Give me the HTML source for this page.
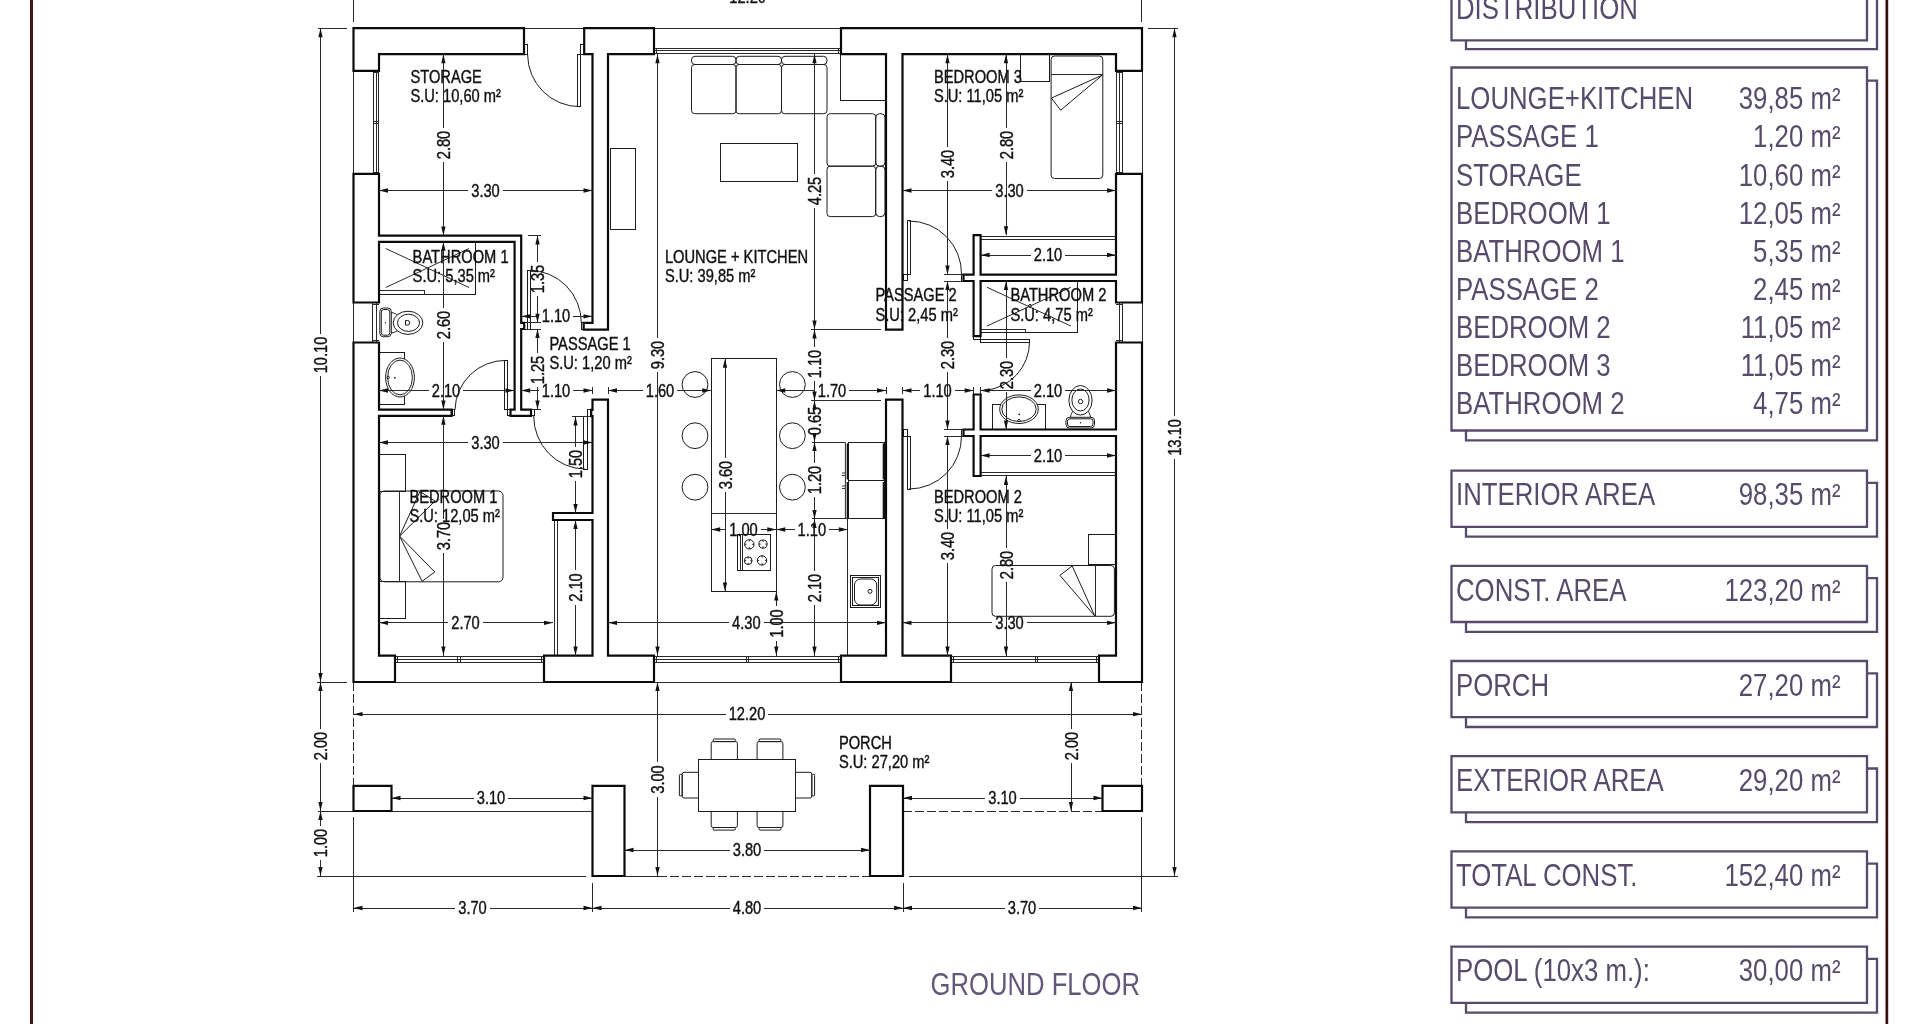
<!DOCTYPE html>
<html><head><meta charset="utf-8"><title>Ground floor</title>
<style>
html,body{margin:0;padding:0;background:#fff;overflow:hidden;}
svg{display:block;font-family:"Liberation Sans",sans-serif;will-change:transform;}
.w{fill:#fff;stroke:#0a0a0a;stroke-width:2.2;stroke-linejoin:miter;}
.t{fill:none;stroke:#2a2a2a;stroke-width:1.0;}
.f{fill:none;stroke:#1c1c1c;stroke-width:1;}
.a{fill:#111;stroke:none;}
.c{shape-rendering:crispEdges;}
.fw{fill:#fff;}
.b{fill:none;stroke:#574b6c;stroke-width:2.3;stroke-linejoin:miter;}
</style></head><body>
<svg width="1920" height="1024" viewBox="0 0 1920 1024">
<rect width="1920" height="1024" fill="#fff"/>
<rect x="30" y="0" width="3" height="1024" fill="#401616"/>
<rect x="1885.5" y="0" width="2.7" height="1024" fill="#3c0d0d"/>
<path d="M353.5 0 L353.5 22" class="t c"/>
<path d="M1141.5 0 L1141.5 22" class="t c"/>
<path d="M318 28.2 L347 28.2" class="t c"/>
<path d="M1147.5 28.2 L1178 28.2" class="t c"/>
<path d="M524 28.2 L584.2 28.2" class="t c"/>
<path d="M654 28.2 L841 28.2" class="t c"/>
<path d="M317 682.5 L347 682.5" class="t c"/>
<path d="M395 682 L544 682" class="t c"/>
<path d="M654 682 L841 682" class="t c"/>
<path d="M951 682 L1099 682" class="t c"/>
<path d="M318 811.5 L592 811.5" class="t c"/>
<path d="M317 876 L586 876" class="t c"/>
<path d="M624.5 876 L658 876" class="t c"/>
<path d="M658 876 L870 876" class="t c" stroke-dasharray="8.5 3.5"/>
<path d="M909 876 L1178 876" class="t c"/>
<path d="M903 811.5 L1102 811.5" class="t c" stroke-dasharray="8.5 3.5"/>
<path d="M353.5 682 L353.5 786" class="t c" stroke-dasharray="8.5 3.5"/>
<path d="M1141.5 682 L1141.5 786" class="t c" stroke-dasharray="8.5 3.5"/>
<path d="M353.5 817 L353.5 912" class="t c"/>
<path d="M592.5 883 L592.5 912" class="t c"/>
<path d="M903 883 L903 912" class="t c"/>
<path d="M1141.5 817 L1141.5 912" class="t c"/>
<path d="M353.3 70.8 L353.3 173.8" class="t c"/>
<path d="M373.2 70.8 L373.2 173.8" class="t c"/>
<path d="M376 70.8 L376 173.8" class="t c"/>
<path d="M378.7 70.8 L378.7 173.8" class="t c"/>
<path d="M373.2 72.5 L378.7 72.5" class="t c"/>
<path d="M373.2 172 L378.7 172" class="t c"/>
<path d="M373.2 121.5 L378.7 121.5" class="t c"/>
<path d="M373.2 123.7 L378.7 123.7" class="t c"/>
<path d="M353.3 302.5 L353.3 342.5" class="t c"/>
<path d="M372.8 302.5 L372.8 342.5" class="t c"/>
<path d="M376.3 302.5 L376.3 342.5" class="t c"/>
<path d="M372.8 304.5 L379 304.5" class="t c"/>
<path d="M372.8 340.5 L379 340.5" class="t c"/>
<path d="M1142.1 70.8 L1142.1 173.8" class="t c"/>
<path d="M1116.4 70.8 L1116.4 173.8" class="t c"/>
<path d="M1119 70.8 L1119 173.8" class="t c"/>
<path d="M1122 70.8 L1122 173.8" class="t c"/>
<path d="M1116.4 72.5 L1122 72.5" class="t c"/>
<path d="M1116.4 172 L1122 172" class="t c"/>
<path d="M1116.4 121.5 L1122 121.5" class="t c"/>
<path d="M1116.4 123.7 L1122 123.7" class="t c"/>
<path d="M1142.1 302.5 L1142.1 342.5" class="t c"/>
<path d="M1119.3 302.5 L1119.3 342.5" class="t c"/>
<path d="M1122.3 302.5 L1122.3 342.5" class="t c"/>
<path d="M1116 304.5 L1122.3 304.5" class="t c"/>
<path d="M1116 340.5 L1122.3 340.5" class="t c"/>
<path d="M654 48.3 L841 48.3" class="t c"/>
<path d="M654 50.8 L841 50.8" class="t c"/>
<path d="M654 53.9 L841 53.9" class="t c"/>
<path d="M656.5 48.3 L656.5 53.9" class="t c"/>
<path d="M838.6 48.3 L838.6 53.9" class="t c"/>
<path d="M395 656.2 L544 656.2" class="t c"/>
<path d="M395 659.5 L544 659.5" class="t c"/>
<path d="M395 662.5 L544 662.5" class="t c"/>
<path d="M397.5 656.2 L397.5 662.5" class="t c"/>
<path d="M541.5 656.2 L541.5 662.5" class="t c"/>
<path d="M457.2 656.2 L457.2 662.5" class="t c"/>
<path d="M460 656.2 L460 662.5" class="t c"/>
<path d="M654 656.2 L841 656.2" class="t c"/>
<path d="M654 659.5 L841 659.5" class="t c"/>
<path d="M654 662.5 L841 662.5" class="t c"/>
<path d="M656.5 656.2 L656.5 662.5" class="t c"/>
<path d="M838.5 656.2 L838.5 662.5" class="t c"/>
<path d="M746 656.2 L746 662.5" class="t c"/>
<path d="M748.8 656.2 L748.8 662.5" class="t c"/>
<path d="M951 656.2 L1099 656.2" class="t c"/>
<path d="M951 659.5 L1099 659.5" class="t c"/>
<path d="M951 662.5 L1099 662.5" class="t c"/>
<path d="M953.5 656.2 L953.5 662.5" class="t c"/>
<path d="M1096.5 656.2 L1096.5 662.5" class="t c"/>
<path d="M1035 656.2 L1035 662.5" class="t c"/>
<path d="M1037.8 656.2 L1037.8 662.5" class="t c"/>
<rect x="691.5" y="56.3" width="44.5" height="8.2" rx="3.5" class="f"/>
<rect x="691.5" y="64.5" width="44.5" height="49.2" rx="3.2" class="f"/>
<rect x="736" y="56.3" width="45.5" height="8.2" rx="3.5" class="f"/>
<rect x="736" y="64.5" width="45.5" height="49.2" rx="3.2" class="f"/>
<rect x="781.5" y="56.3" width="45.5" height="8.2" rx="3.5" class="f"/>
<rect x="781.5" y="64.5" width="45.5" height="49.2" rx="3.2" class="f"/>
<rect x="827" y="113.7" width="48.7" height="52.5" rx="3.2" class="f"/>
<rect x="875.7" y="113.7" width="9.3" height="52.5" rx="4" class="f"/>
<rect x="827" y="166.2" width="48.7" height="50.4" rx="3.2" class="f"/>
<rect x="875.7" y="166.2" width="9.3" height="50.4" rx="4" class="f"/>
<rect x="720.4" y="143" width="76.9" height="38.4" class="f c"/>
<rect x="610" y="148" width="25" height="81" class="f c"/>
<rect x="840" y="54.2" width="46" height="46.7" class="f c"/>
<rect x="711.2" y="358.7" width="65.1" height="232.8" class="f c"/>
<path d="M711.2 513 L776.3 513" class="t c"/>
<circle cx="695" cy="384.5" r="12.9" class="f"/>
<circle cx="792.4" cy="384.5" r="12.9" class="f"/>
<circle cx="695" cy="435.7" r="12.9" class="f"/>
<circle cx="792.4" cy="435.7" r="12.9" class="f"/>
<circle cx="695" cy="487.2" r="12.9" class="f"/>
<circle cx="792.4" cy="487.2" r="12.9" class="f"/>
<rect x="737.5" y="534.4" width="33" height="36.2" class="f c"/>
<path d="M740.3 534.4 L740.3 570.6" class="t c"/>
<path d="M742.2 534.4 L742.2 570.6" class="t c"/>
<circle cx="749.3" cy="544.3" r="4.7" class="f"/>
<path d="M744.6 544.3 h1.8 M754 544.3 h-1.8 M749.3 539.6 v1.8 M749.3 549 v-1.8" class="f"/>
<circle cx="763" cy="544.1" r="4.1" class="f"/>
<path d="M758.9 544.1 h1.8 M767.1 544.1 h-1.8 M763 540 v1.8 M763 548.2 v-1.8" class="f"/>
<circle cx="748.2" cy="560.7" r="3.9" class="f"/>
<path d="M744.3 560.7 h1.8 M752.1 560.7 h-1.8 M748.2 556.8 v1.8 M748.2 564.6 v-1.8" class="f"/>
<circle cx="762" cy="560.4" r="4.7" class="f"/>
<path d="M757.3 560.4 h1.8 M766.7 560.4 h-1.8 M762 555.7 v1.8 M762 565.1 v-1.8" class="f"/>
<path d="M812.4 442.4 L845 442.4" class="t c"/>
<path d="M812.4 518.8 L847.8 518.8" class="t c"/>
<rect x="848" y="442.4" width="36.4" height="38.4" class="f c"/>
<rect x="848" y="480.8" width="36.4" height="38" class="f c"/>
<path d="M847.6 443.5 V479.5 M847.6 482 V518 M883.6 443.5 V479.5 M883.6 482 V518" stroke="#111" stroke-width="1.8" fill="none"/>
<path d="M845.4 442.4 V518.8" class="t"/>
<path d="M842 473 h3 M842 475.5 h3 M842 486 h3 M842 488.5 h3" stroke="#222" stroke-width="0.9" fill="none"/>
<path d="M847.8 518.8 L847.8 655.6" class="t c"/>
<rect x="850.3" y="575.4" width="30.6" height="32.3" class="f c"/>
<rect x="852.3" y="577.4" width="26.6" height="28.3" class="f c"/>
<rect x="854.5" y="579" width="22.2" height="26" rx="6" class="f"/>
<circle cx="870" cy="591.3" r="2" class="f"/>
<rect x="379" y="241.8" width="96.7" height="52.2" class="f c"/>
<path d="M379 290.3 L424 290.3" class="t c"/>
<path d="M424 290.3 L424 294" class="t c"/>
<path d="M385.8 248.5 L469 287.5" class="t"/>
<path d="M385.8 287.5 L469 248.5" class="t"/>
<rect x="379.8" y="308" width="11.5" height="28.7" rx="3.5" class="f"/>
<rect x="381.3" y="309.5" width="8.5" height="25.7" rx="2.5" class="f"/>
<path d="M391.3 312.5 C396 313 397 316 400 314.5 M391.3 333 C396 332.5 397 329.5 400 331" class="f"/>
<ellipse cx="408" cy="322.8" rx="14.8" ry="11.6" class="f fw"/>
<ellipse cx="408.5" cy="322.8" rx="11" ry="8.6" class="f"/>
<path d="M405.5 320.5 v4.6 h2 a2.3 2.3 0 0 0 0 -4.6 z" class="f"/>
<circle cx="385.5" cy="322.8" r="0.7" class="a"/>
<rect x="379" y="352" width="25.7" height="52.4" class="f c"/>
<ellipse cx="400" cy="377.5" rx="14.4" ry="19.5" class="f fw"/>
<ellipse cx="400" cy="377.5" rx="12.4" ry="17.4" class="f"/>
<circle cx="388.2" cy="377.5" r="1.2" class="f"/>
<circle cx="394.8" cy="377.8" r="0.9" class="a"/>
<rect x="980.6" y="281" width="97.1" height="51.4" class="f c"/>
<path d="M980.6 329.4 L1025 329.4" class="t c"/>
<path d="M1025 329.4 L1025 332.4" class="t c"/>
<path d="M987 287.3 L1070.8 326" class="t"/>
<path d="M987 326 L1070.8 287.3" class="t"/>
<circle cx="1030" cy="305.8" r="1.4" class="f"/>
<rect x="992.5" y="404" width="52.5" height="25.5" class="f c"/>
<ellipse cx="1019" cy="409.2" rx="19.3" ry="14.3" class="f fw"/>
<ellipse cx="1019" cy="409.2" rx="17.2" ry="12.3" class="f"/>
<circle cx="1019" cy="420.6" r="1.2" class="f"/>
<circle cx="1019.3" cy="414.3" r="0.9" class="a"/>
<rect x="1066" y="417.3" width="28.5" height="10.7" rx="3.5" class="f"/>
<rect x="1067.5" y="418.8" width="25.5" height="7.7" rx="2.5" class="f"/>
<path d="M1070.5 417.3 C1071 412.5 1074 411.5 1072.5 408.5 M1090.5 417.3 C1090 412.5 1087 411.5 1088.5 408.5" class="f"/>
<ellipse cx="1080.5" cy="400.3" rx="11.6" ry="14.8" class="f fw"/>
<ellipse cx="1080.5" cy="400" rx="8.6" ry="11" class="f"/>
<circle cx="1080.5" cy="401.5" r="2.2" class="f"/>
<circle cx="1080.5" cy="422.8" r="0.7" class="a"/>
<rect x="379" y="454.1" width="26.8" height="36.9" class="f c"/>
<rect x="379" y="581.8" width="26.8" height="36.4" class="f c"/>
<rect x="379.9" y="491" width="123.1" height="90.8" rx="4.5" class="f"/>
<path d="M399.6 491 L399.6 581.8" class="t c"/>
<path d="M399.6 536.1 L420 491.5 L435 501 L399.6 536.1" class="f"/>
<path d="M399.6 536.1 L422.1 581.3 L434.8 572 L399.6 536.1" class="f"/>
<rect x="1020.6" y="54.2" width="29.1" height="27.2" class="f c"/>
<rect x="1051.1" y="56" width="51.7" height="122.5" rx="3.5" class="f"/>
<path d="M1051.1 74.7 L1102.8 74.7" class="t c"/>
<path d="M1102.5 75 L1051.4 98.1 L1060.7 110.2 Z" class="f"/>
<rect x="1088.6" y="534.4" width="27.4" height="29.6" class="f c"/>
<rect x="992" y="565.5" width="122.4" height="50.8" rx="3.5" class="f"/>
<path d="M1095.6 565.5 L1095.6 616.3" class="t c"/>
<path d="M1094.8 616 L1059.9 575.3 L1072.2 566 Z" class="f"/>
<path d="M554.5 520 L554.5 655.6" class="t c"/>
<path d="M557.5 520 L557.5 655.6" class="t c"/>
<path d="M980.6 236.3 L1116 236.3" class="t c"/>
<path d="M980.6 239.3 L1116 239.3" class="t c"/>
<path d="M980.6 472.6 L1116 472.6" class="t c"/>
<path d="M980.6 475.6 L1116 475.6" class="t c"/>
<rect x="698.7" y="759.6" width="97.1" height="51.5" class="f c"/>
<path d="M711.2 759.6 V743.5 Q711.2 741.6 713.2 741.6 H735.4 Q737.4 741.6 737.4 743.5 V759.6" class="f"/>
<rect x="713.2" y="739" width="22.2" height="2.6" rx="1" class="f"/>
<path d="M711.2 811.1 V825.6 Q711.2 827.5 713.2 827.5 H735.4 Q737.4 827.5 737.4 825.6 V811.1" class="f"/>
<rect x="713.2" y="827.5" width="22.2" height="2.6" rx="1" class="f"/>
<path d="M757.1 759.6 V743.5 Q757.1 741.6 759.1 741.6 H780.9 Q782.9 741.6 782.9 743.5 V759.6" class="f"/>
<rect x="759.1" y="739" width="21.8" height="2.6" rx="1" class="f"/>
<path d="M757.1 811.1 V825.6 Q757.1 827.5 759.1 827.5 H780.9 Q782.9 827.5 782.9 825.6 V811.1" class="f"/>
<rect x="759.1" y="827.5" width="21.8" height="2.6" rx="1" class="f"/>
<path d="M698.7 772.3 H684 Q682.2 772.3 682.2 774.3 V796 Q682.2 798 684 798 H698.7" class="f"/>
<rect x="679.4" y="774.3" width="2.8" height="21.7" rx="1" class="f"/>
<path d="M795.8 772.3 H810 Q811.8 772.3 811.8 774.3 V796 Q811.8 798 810 798 H795.8" class="f"/>
<rect x="811.8" y="774.3" width="2.8" height="21.7" rx="1" class="f"/>
<rect x="524.8" y="44.4" width="3" height="9.8" class="f c"/>
<rect x="580.5" y="44.4" width="3.5" height="9.8" class="f c"/>
<rect x="577.4" y="54.2" width="3.2" height="52.5" class="f c"/>
<path d="M527.6 54.5 A52.4 52.3 0 0 0 580 106.7" class="f"/>
<rect x="527" y="270.4" width="3.3" height="58.6" class="f c"/>
<path d="M529.5 270.4 A51.8 52.4 0 0 1 581.3 322.8" class="f"/>
<rect x="581" y="322.8" width="2.7" height="6.8" class="f c"/>
<path d="M524.2 322.8 L541 322.8" class="t c"/>
<path d="M524.2 329 L541 329" class="t c"/>
<path d="M527.5 235.6 L541 235.6" class="t c"/>
<rect x="504.8" y="360.4" width="2.8" height="49.2" class="f c"/>
<rect x="507.6" y="409.6" width="2.9" height="6.2" class="f c"/>
<rect x="452" y="409.6" width="2.6" height="6.2" class="f c"/>
<path d="M506 360.4 A50.5 50.5 0 0 0 455 409.6" class="f"/>
<rect x="531.3" y="409.6" width="2.7" height="6.2" class="f c"/>
<path d="M531 409.6 L541 409.6" class="t c"/>
<rect x="583" y="416.4" width="4.6" height="52.6" class="f c"/>
<rect x="587.6" y="409.3" width="3.2" height="7.1" class="f c"/>
<path d="M533.7 416 A51.5 53 0 0 0 585 469" class="f"/>
<path d="M572.3 416.4 L591 416.4" class="t c"/>
<rect x="907.4" y="220.8" width="3.4" height="53.6" class="f c"/>
<rect x="903.5" y="274.4" width="3.9" height="6.2" class="f c"/>
<path d="M909 221 A52.5 52.5 0 0 1 961.5 274.6" class="f"/>
<rect x="961" y="274.6" width="2.5" height="6.4" class="f c"/>
<path d="M944.4 274.4 L962 274.4" class="t c"/>
<path d="M944.4 281 L962 281" class="t c"/>
<rect x="980.6" y="339" width="49" height="3.5" class="f c"/>
<rect x="973.6" y="336.2" width="7" height="3.1" class="f c"/>
<path d="M1029.6 341.5 A48.8 49 0 0 1 984 390.4" class="f"/>
<rect x="907.4" y="436" width="3.4" height="53.2" class="f c"/>
<rect x="903.5" y="429.6" width="3.9" height="6.4" class="f c"/>
<path d="M909 489 A52.5 52.5 0 0 0 961.5 436" class="f"/>
<rect x="961" y="429.5" width="2.5" height="6.5" class="f c"/>
<path d="M944.4 429.5 L962 429.5" class="t c"/>
<path d="M944.4 436 L962 436" class="t c"/>
<path d="M810.5 329.6 L881 329.6" class="t c"/>
<path d="M810.5 400.5 L881 400.5" class="t c"/>
<path d="M353.5 28.2 L524 28.2 L524 54.2 L379 54.2 L379 70.8 L353.5 70.8 Z" class="w"/>
<path d="M353.5 173.8 L379 173.8 L379 235.6 L521.2 235.6 L521.2 322.8 L524.2 322.8 L524.2 329 L521.2 329 L521.2 409.6 L531 409.6 L531 415.8 L510.5 415.8 L510.5 409.6 L514.6 409.6 L514.6 241.8 L379 241.8 L379 302.5 L353.5 302.5 Z" class="w"/>
<path d="M353.5 342.5 L379 342.5 L379 409.6 L451.6 409.6 L451.6 415.8 L379 415.8 L379 655.6 L395 655.6 L395 682 L353.5 682 Z" class="w"/>
<path d="M584.2 28.2 L654 28.2 L654 54.2 L608 54.2 L608 329.6 L583.7 329.6 L583.7 322.8 L592.5 322.8 L592.5 54.2 L584.2 54.2 Z" class="w"/>
<path d="M592.5 399.6 L608 399.6 L608 655.6 L654 655.6 L654 682 L544 682 L544 655.6 L592.5 655.6 L592.5 520 L553 520 L553 513 L592.5 513 L592.5 416.2 L591.2 416.2 L591.2 409.8 L592.5 409.8 Z" class="w"/>
<path d="M841 28.2 L1142 28.2 L1142 70.8 L1116 70.8 L1116 54.2 L902.5 54.2 L902.5 329.6 L886 329.6 L886 54.2 L841 54.2 Z" class="w"/>
<path d="M886 399.6 L902.5 399.6 L902.5 655.6 L951 655.6 L951 682 L841 682 L841 655.6 L886 655.6 Z" class="w"/>
<path d="M1116 173.8 L1142 173.8 L1142 302.5 L1116 302.5 L1116 281 L980.6 281 L980.6 336.2 L973.6 336.2 L973.6 281 L963.5 281 L963.5 274.6 L973.6 274.6 L973.6 235.2 L980.6 235.2 L980.6 274.6 L1116 274.6 Z" class="w"/>
<path d="M1116 342.5 L1142 342.5 L1142 682 L1099 682 L1099 655.6 L1116 655.6 L1116 436 L980.6 436 L980.6 476 L973.6 476 L973.6 436 L963.5 436 L963.5 429.5 L973.6 429.5 L973.6 394.5 L980.6 394.5 L980.6 429.5 L1116 429.5 Z" class="w"/>
<path d="M353.5 785.8 L391.5 785.8 L391.5 811 L353.5 811 Z" class="w"/>
<path d="M592.5 785.8 L624.5 785.8 L624.5 876 L592.5 876 Z" class="w"/>
<path d="M870 785.8 L903 785.8 L903 876 L870 876 Z" class="w"/>
<path d="M1102.5 785.8 L1142 785.8 L1142 811 L1102.5 811 Z" class="w"/>
<path d="M353.5 -3.2 L726.22 -3.2" class="t c"/>
<path d="M768.98 -3.2 L1142 -3.2" class="t c"/>
<path d="M353.5 -3.2 L362.5 -5.35 L362.5 -1.05 Z" class="a"/>
<path d="M1142 -3.2 L1133 -1.05 L1133 -5.35 Z" class="a"/>
<text transform="translate(747.6 2.9) scale(0.8300 1)" font-size="17.7" text-anchor="middle" fill="#111" stroke="#111" stroke-width="0.4">12.20</text>
<path d="M379 190.5 L468.2 190.5" class="t c"/>
<path d="M502.8 190.5 L592.5 190.5" class="t c"/>
<path d="M379 190.5 L388 188.35 L388 192.65 Z" class="a"/>
<path d="M592.5 190.5 L583.5 192.65 L583.5 188.35 Z" class="a"/>
<text transform="translate(485.5 196.6) scale(0.8300 1)" font-size="17.7" text-anchor="middle" fill="#111" stroke="#111" stroke-width="0.4">3.30</text>
<path d="M902.5 190.5 L992.2 190.5" class="t c"/>
<path d="M1026.8 190.5 L1116 190.5" class="t c"/>
<path d="M902.5 190.5 L911.5 188.35 L911.5 192.65 Z" class="a"/>
<path d="M1116 190.5 L1107 192.65 L1107 188.35 Z" class="a"/>
<text transform="translate(1009.5 196.6) scale(0.8300 1)" font-size="17.7" text-anchor="middle" fill="#111" stroke="#111" stroke-width="0.4">3.30</text>
<path d="M980.6 255 L1030.7 255" class="t c"/>
<path d="M1065.3 255 L1116 255" class="t c"/>
<path d="M980.6 255 L989.6 252.85 L989.6 257.15 Z" class="a"/>
<path d="M1116 255 L1107 257.15 L1107 252.85 Z" class="a"/>
<text transform="translate(1048 261.1) scale(0.8300 1)" font-size="17.7" text-anchor="middle" fill="#111" stroke="#111" stroke-width="0.4">2.10</text>
<path d="M521.2 316.3 L538.7 316.3" class="t c"/>
<path d="M573.3 316.3 L592.5 316.3" class="t c"/>
<path d="M521.2 316.3 L530.2 314.15 L530.2 318.45 Z" class="a"/>
<path d="M592.5 316.3 L583.5 318.45 L583.5 314.15 Z" class="a"/>
<text transform="translate(556 322.4) scale(0.8300 1)" font-size="17.7" text-anchor="middle" fill="#111" stroke="#111" stroke-width="0.4">1.10</text>
<path d="M379 390.5 L428.7 390.5" class="t c"/>
<path d="M463.3 390.5 L514.6 390.5" class="t c"/>
<path d="M379 390.5 L388 388.35 L388 392.65 Z" class="a"/>
<path d="M514.6 390.5 L505.6 392.65 L505.6 388.35 Z" class="a"/>
<text transform="translate(446 396.6) scale(0.8300 1)" font-size="17.7" text-anchor="middle" fill="#111" stroke="#111" stroke-width="0.4">2.10</text>
<path d="M521.2 390.5 L538.7 390.5" class="t c"/>
<path d="M573.3 390.5 L592.5 390.5" class="t c"/>
<path d="M521.2 390.5 L530.2 388.35 L530.2 392.65 Z" class="a"/>
<path d="M592.5 390.5 L583.5 392.65 L583.5 388.35 Z" class="a"/>
<text transform="translate(556 396.6) scale(0.8300 1)" font-size="17.7" text-anchor="middle" fill="#111" stroke="#111" stroke-width="0.4">1.10</text>
<path d="M608 390.5 L642.7 390.5" class="t c"/>
<path d="M677.3 390.5 L711.2 390.5" class="t c"/>
<path d="M608 390.5 L617 388.35 L617 392.65 Z" class="a"/>
<path d="M711.2 390.5 L702.2 392.65 L702.2 388.35 Z" class="a"/>
<text transform="translate(660 396.6) scale(0.8300 1)" font-size="17.7" text-anchor="middle" fill="#111" stroke="#111" stroke-width="0.4">1.60</text>
<path d="M776.3 390.5 L814.7 390.5" class="t c"/>
<path d="M849.3 390.5 L886 390.5" class="t c"/>
<path d="M776.3 390.5 L785.3 388.35 L785.3 392.65 Z" class="a"/>
<path d="M886 390.5 L877 392.65 L877 388.35 Z" class="a"/>
<text transform="translate(832 396.6) scale(0.8300 1)" font-size="17.7" text-anchor="middle" fill="#111" stroke="#111" stroke-width="0.4">1.70</text>
<path d="M902.5 390.5 L920.2 390.5" class="t c"/>
<path d="M954.8 390.5 L973.6 390.5" class="t c"/>
<path d="M902.5 390.5 L911.5 388.35 L911.5 392.65 Z" class="a"/>
<path d="M973.6 390.5 L964.6 392.65 L964.6 388.35 Z" class="a"/>
<text transform="translate(937.5 396.6) scale(0.8300 1)" font-size="17.7" text-anchor="middle" fill="#111" stroke="#111" stroke-width="0.4">1.10</text>
<path d="M980.6 390.5 L1030.7 390.5" class="t c"/>
<path d="M1065.3 390.5 L1116 390.5" class="t c"/>
<path d="M980.6 390.5 L989.6 388.35 L989.6 392.65 Z" class="a"/>
<path d="M1116 390.5 L1107 392.65 L1107 388.35 Z" class="a"/>
<text transform="translate(1048 396.6) scale(0.8300 1)" font-size="17.7" text-anchor="middle" fill="#111" stroke="#111" stroke-width="0.4">2.10</text>
<path d="M379 442.5 L468.2 442.5" class="t c"/>
<path d="M502.8 442.5 L592.5 442.5" class="t c"/>
<path d="M379 442.5 L388 440.35 L388 444.65 Z" class="a"/>
<path d="M592.5 442.5 L583.5 444.65 L583.5 440.35 Z" class="a"/>
<text transform="translate(485.5 448.6) scale(0.8300 1)" font-size="17.7" text-anchor="middle" fill="#111" stroke="#111" stroke-width="0.4">3.30</text>
<path d="M980.6 455.5 L1030.7 455.5" class="t c"/>
<path d="M1065.3 455.5 L1116 455.5" class="t c"/>
<path d="M980.6 455.5 L989.6 453.35 L989.6 457.65 Z" class="a"/>
<path d="M1116 455.5 L1107 457.65 L1107 453.35 Z" class="a"/>
<text transform="translate(1048 461.6) scale(0.8300 1)" font-size="17.7" text-anchor="middle" fill="#111" stroke="#111" stroke-width="0.4">2.10</text>
<path d="M711.2 529.5 L726.2 529.5" class="t c"/>
<path d="M760.8 529.5 L776.3 529.5" class="t c"/>
<path d="M711.2 529.5 L720.2 527.35 L720.2 531.65 Z" class="a"/>
<path d="M776.3 529.5 L767.3 531.65 L767.3 527.35 Z" class="a"/>
<text transform="translate(743.5 535.6) scale(0.8300 1)" font-size="17.7" text-anchor="middle" fill="#111" stroke="#111" stroke-width="0.4">1.00</text>
<path d="M776.3 529.5 L794.5 529.5" class="t c"/>
<path d="M829.1 529.5 L847.8 529.5" class="t c"/>
<path d="M776.3 529.5 L785.3 527.35 L785.3 531.65 Z" class="a"/>
<path d="M847.8 529.5 L838.8 531.65 L838.8 527.35 Z" class="a"/>
<text transform="translate(811.8 535.6) scale(0.8300 1)" font-size="17.7" text-anchor="middle" fill="#111" stroke="#111" stroke-width="0.4">1.10</text>
<path d="M379 622.8 L448.2 622.8" class="t c"/>
<path d="M482.8 622.8 L553 622.8" class="t c"/>
<path d="M379 622.8 L388 620.65 L388 624.95 Z" class="a"/>
<path d="M553 622.8 L544 624.95 L544 620.65 Z" class="a"/>
<text transform="translate(465.5 628.9) scale(0.8300 1)" font-size="17.7" text-anchor="middle" fill="#111" stroke="#111" stroke-width="0.4">2.70</text>
<path d="M608 622.8 L729.1 622.8" class="t c"/>
<path d="M763.7 622.8 L886 622.8" class="t c"/>
<path d="M608 622.8 L617 620.65 L617 624.95 Z" class="a"/>
<path d="M886 622.8 L877 624.95 L877 620.65 Z" class="a"/>
<text transform="translate(746.4 628.9) scale(0.8300 1)" font-size="17.7" text-anchor="middle" fill="#111" stroke="#111" stroke-width="0.4">4.30</text>
<path d="M902.5 622.8 L992.2 622.8" class="t c"/>
<path d="M1026.8 622.8 L1116 622.8" class="t c"/>
<path d="M902.5 622.8 L911.5 620.65 L911.5 624.95 Z" class="a"/>
<path d="M1116 622.8 L1107 624.95 L1107 620.65 Z" class="a"/>
<text transform="translate(1009.5 628.9) scale(0.8300 1)" font-size="17.7" text-anchor="middle" fill="#111" stroke="#111" stroke-width="0.4">3.30</text>
<path d="M353.5 714.2 L725.62 714.2" class="t c"/>
<path d="M768.38 714.2 L1142 714.2" class="t c"/>
<path d="M353.5 714.2 L362.5 712.05 L362.5 716.35 Z" class="a"/>
<path d="M1142 714.2 L1133 716.35 L1133 712.05 Z" class="a"/>
<text transform="translate(747 720.3) scale(0.8300 1)" font-size="17.7" text-anchor="middle" fill="#111" stroke="#111" stroke-width="0.4">12.20</text>
<path d="M391.5 798 L473.7 798" class="t c"/>
<path d="M508.3 798 L592.5 798" class="t c"/>
<path d="M391.5 798 L400.5 795.85 L400.5 800.15 Z" class="a"/>
<path d="M592.5 798 L583.5 800.15 L583.5 795.85 Z" class="a"/>
<text transform="translate(491 804.1) scale(0.8300 1)" font-size="17.7" text-anchor="middle" fill="#111" stroke="#111" stroke-width="0.4">3.10</text>
<path d="M903 798 L985.2 798" class="t c"/>
<path d="M1019.8 798 L1102.5 798" class="t c"/>
<path d="M903 798 L912 795.85 L912 800.15 Z" class="a"/>
<path d="M1102.5 798 L1093.5 800.15 L1093.5 795.85 Z" class="a"/>
<text transform="translate(1002.5 804.1) scale(0.8300 1)" font-size="17.7" text-anchor="middle" fill="#111" stroke="#111" stroke-width="0.4">3.10</text>
<path d="M624.5 850 L729.7 850" class="t c"/>
<path d="M764.3 850 L870 850" class="t c"/>
<path d="M624.5 850 L633.5 847.85 L633.5 852.15 Z" class="a"/>
<path d="M870 850 L861 852.15 L861 847.85 Z" class="a"/>
<text transform="translate(747 856.1) scale(0.8300 1)" font-size="17.7" text-anchor="middle" fill="#111" stroke="#111" stroke-width="0.4">3.80</text>
<path d="M353.5 908 L455.2 908" class="t c"/>
<path d="M489.8 908 L592.5 908" class="t c"/>
<path d="M353.5 908 L362.5 905.85 L362.5 910.15 Z" class="a"/>
<path d="M592.5 908 L583.5 910.15 L583.5 905.85 Z" class="a"/>
<text transform="translate(472.5 914.1) scale(0.8300 1)" font-size="17.7" text-anchor="middle" fill="#111" stroke="#111" stroke-width="0.4">3.70</text>
<path d="M592.5 908 L729.7 908" class="t c"/>
<path d="M764.3 908 L903 908" class="t c"/>
<path d="M592.5 908 L601.5 905.85 L601.5 910.15 Z" class="a"/>
<path d="M903 908 L894 910.15 L894 905.85 Z" class="a"/>
<text transform="translate(747 914.1) scale(0.8300 1)" font-size="17.7" text-anchor="middle" fill="#111" stroke="#111" stroke-width="0.4">4.80</text>
<path d="M903 908 L1004.7 908" class="t c"/>
<path d="M1039.3 908 L1142 908" class="t c"/>
<path d="M903 908 L912 905.85 L912 910.15 Z" class="a"/>
<path d="M1142 908 L1133 910.15 L1133 905.85 Z" class="a"/>
<text transform="translate(1022 914.1) scale(0.8300 1)" font-size="17.7" text-anchor="middle" fill="#111" stroke="#111" stroke-width="0.4">3.70</text>
<path d="M973.6 387 L973.6 394" class="t c"/>
<path d="M980.6 387 L980.6 394" class="t c"/>
<path d="M592.5 387 L592.5 394" class="t c"/>
<path d="M608 387 L608 394" class="t c"/>
<path d="M886 387 L886 394" class="t c"/>
<path d="M902.5 387 L902.5 394" class="t c"/>
<path d="M320.5 28.2 L320.5 333.62" class="t c"/>
<path d="M320.5 376.38 L320.5 682" class="t c"/>
<path d="M320.5 28.2 L322.65 37.2 L318.35 37.2 Z" class="a"/>
<path d="M320.5 682 L318.35 673 L322.65 673 Z" class="a"/>
<text transform="translate(327.1 355) rotate(-90) scale(0.8300 1)" font-size="17.7" text-anchor="middle" fill="#111" stroke="#111" stroke-width="0.4">10.10</text>
<path d="M320.5 682 L320.5 728.7" class="t c"/>
<path d="M320.5 763.3 L320.5 811" class="t c"/>
<path d="M320.5 682 L322.65 691 L318.35 691 Z" class="a"/>
<path d="M320.5 811 L318.35 802 L322.65 802 Z" class="a"/>
<text transform="translate(327.1 746) rotate(-90) scale(0.8300 1)" font-size="17.7" text-anchor="middle" fill="#111" stroke="#111" stroke-width="0.4">2.00</text>
<path d="M320.5 811 L320.5 825.7" class="t c"/>
<path d="M320.5 860.3 L320.5 876" class="t c"/>
<path d="M320.5 811 L322.65 820 L318.35 820 Z" class="a"/>
<path d="M320.5 876 L318.35 867 L322.65 867 Z" class="a"/>
<text transform="translate(327.1 843) rotate(-90) scale(0.8300 1)" font-size="17.7" text-anchor="middle" fill="#111" stroke="#111" stroke-width="0.4">1.00</text>
<path d="M1174.5 28.2 L1174.5 416.12" class="t c"/>
<path d="M1174.5 458.88 L1174.5 876" class="t c"/>
<path d="M1174.5 28.2 L1176.65 37.2 L1172.35 37.2 Z" class="a"/>
<path d="M1174.5 876 L1172.35 867 L1176.65 867 Z" class="a"/>
<text transform="translate(1181.1 437.5) rotate(-90) scale(0.8300 1)" font-size="17.7" text-anchor="middle" fill="#111" stroke="#111" stroke-width="0.4">13.10</text>
<path d="M443.4 54.2 L443.4 127.7" class="t c"/>
<path d="M443.4 162.3 L443.4 235.6" class="t c"/>
<path d="M443.4 54.2 L445.55 63.2 L441.25 63.2 Z" class="a"/>
<path d="M443.4 235.6 L441.25 226.6 L445.55 226.6 Z" class="a"/>
<text transform="translate(450 145) rotate(-90) scale(0.8300 1)" font-size="17.7" text-anchor="middle" fill="#111" stroke="#111" stroke-width="0.4">2.80</text>
<path d="M443.4 241.8 L443.4 307.7" class="t c"/>
<path d="M443.4 342.3 L443.4 409.6" class="t c"/>
<path d="M443.4 241.8 L445.55 250.8 L441.25 250.8 Z" class="a"/>
<path d="M443.4 409.6 L441.25 400.6 L445.55 400.6 Z" class="a"/>
<text transform="translate(450 325) rotate(-90) scale(0.8300 1)" font-size="17.7" text-anchor="middle" fill="#111" stroke="#111" stroke-width="0.4">2.60</text>
<path d="M443.4 415.8 L443.4 518.7" class="t c"/>
<path d="M443.4 553.3 L443.4 655.6" class="t c"/>
<path d="M443.4 415.8 L445.55 424.8 L441.25 424.8 Z" class="a"/>
<path d="M443.4 655.6 L441.25 646.6 L445.55 646.6 Z" class="a"/>
<text transform="translate(450 536) rotate(-90) scale(0.8300 1)" font-size="17.7" text-anchor="middle" fill="#111" stroke="#111" stroke-width="0.4">3.70</text>
<path d="M537.5 235.6 L537.5 261.7" class="t c"/>
<path d="M537.5 296.3 L537.5 322.8" class="t c"/>
<path d="M537.5 235.6 L539.65 244.6 L535.35 244.6 Z" class="a"/>
<path d="M537.5 322.8 L535.35 313.8 L539.65 313.8 Z" class="a"/>
<text transform="translate(544.1 279) rotate(-90) scale(0.8300 1)" font-size="17.7" text-anchor="middle" fill="#111" stroke="#111" stroke-width="0.4">1.35</text>
<path d="M537.5 329 L537.5 352.7" class="t c"/>
<path d="M537.5 387.3 L537.5 409.6" class="t c"/>
<path d="M537.5 329 L539.65 338 L535.35 338 Z" class="a"/>
<path d="M537.5 409.6 L535.35 400.6 L539.65 400.6 Z" class="a"/>
<text transform="translate(544.1 370) rotate(-90) scale(0.8300 1)" font-size="17.7" text-anchor="middle" fill="#111" stroke="#111" stroke-width="0.4">1.25</text>
<path d="M575.5 416.4 L575.5 446.7" class="t c"/>
<path d="M575.5 481.3 L575.5 513" class="t c"/>
<path d="M575.5 416.4 L577.65 425.4 L573.35 425.4 Z" class="a"/>
<path d="M575.5 513 L573.35 504 L577.65 504 Z" class="a"/>
<text transform="translate(582.1 464) rotate(-90) scale(0.8300 1)" font-size="17.7" text-anchor="middle" fill="#111" stroke="#111" stroke-width="0.4">1.50</text>
<path d="M575.5 520 L575.5 570.2" class="t c"/>
<path d="M575.5 604.8 L575.5 655.6" class="t c"/>
<path d="M575.5 520 L577.65 529 L573.35 529 Z" class="a"/>
<path d="M575.5 655.6 L573.35 646.6 L577.65 646.6 Z" class="a"/>
<text transform="translate(582.1 587.5) rotate(-90) scale(0.8300 1)" font-size="17.7" text-anchor="middle" fill="#111" stroke="#111" stroke-width="0.4">2.10</text>
<path d="M657.5 54.2 L657.5 337.7" class="t c"/>
<path d="M657.5 372.3 L657.5 655.6" class="t c"/>
<path d="M657.5 54.2 L659.65 63.2 L655.35 63.2 Z" class="a"/>
<path d="M657.5 655.6 L655.35 646.6 L659.65 646.6 Z" class="a"/>
<text transform="translate(664.1 355) rotate(-90) scale(0.8300 1)" font-size="17.7" text-anchor="middle" fill="#111" stroke="#111" stroke-width="0.4">9.30</text>
<path d="M657.5 682 L657.5 762.2" class="t c"/>
<path d="M657.5 796.8 L657.5 876" class="t c"/>
<path d="M657.5 682 L659.65 691 L655.35 691 Z" class="a"/>
<path d="M657.5 876 L655.35 867 L659.65 867 Z" class="a"/>
<text transform="translate(664.1 779.5) rotate(-90) scale(0.8300 1)" font-size="17.7" text-anchor="middle" fill="#111" stroke="#111" stroke-width="0.4">3.00</text>
<path d="M725 358.7 L725 457.7" class="t c"/>
<path d="M725 492.3 L725 591.5" class="t c"/>
<path d="M725 358.7 L727.15 367.7 L722.85 367.7 Z" class="a"/>
<path d="M725 591.5 L722.85 582.5 L727.15 582.5 Z" class="a"/>
<text transform="translate(731.6 475) rotate(-90) scale(0.8300 1)" font-size="17.7" text-anchor="middle" fill="#111" stroke="#111" stroke-width="0.4">3.60</text>
<path d="M776.3 591.5 L776.3 606.2" class="t c"/>
<path d="M776.3 640.8 L776.3 655.6" class="t c"/>
<path d="M776.3 591.5 L778.45 600.5 L774.15 600.5 Z" class="a"/>
<path d="M776.3 655.6 L774.15 646.6 L778.45 646.6 Z" class="a"/>
<text transform="translate(782.9 623.5) rotate(-90) scale(0.8300 1)" font-size="17.7" text-anchor="middle" fill="#111" stroke="#111" stroke-width="0.4">1.00</text>
<path d="M814.5 54.2 L814.5 173.7" class="t c"/>
<path d="M814.5 208.3 L814.5 329.6" class="t c"/>
<path d="M814.5 54.2 L816.65 63.2 L812.35 63.2 Z" class="a"/>
<path d="M814.5 329.6 L812.35 320.6 L816.65 320.6 Z" class="a"/>
<text transform="translate(821.1 191) rotate(-90) scale(0.8300 1)" font-size="17.7" text-anchor="middle" fill="#111" stroke="#111" stroke-width="0.4">4.25</text>
<path d="M814.5 329.6 L814.5 346.7" class="t c"/>
<path d="M814.5 381.3 L814.5 400.5" class="t c"/>
<path d="M814.5 329.6 L816.65 338.6 L812.35 338.6 Z" class="a"/>
<path d="M814.5 400.5 L812.35 391.5 L816.65 391.5 Z" class="a"/>
<text transform="translate(821.1 364) rotate(-90) scale(0.8300 1)" font-size="17.7" text-anchor="middle" fill="#111" stroke="#111" stroke-width="0.4">1.10</text>
<path d="M814.5 400.5 L814.5 403.7" class="t c"/>
<path d="M814.5 438.3 L814.5 442" class="t c"/>
<path d="M814.5 400.5 L816.65 409.5 L812.35 409.5 Z" class="a"/>
<path d="M814.5 442 L812.35 433 L816.65 433 Z" class="a"/>
<text transform="translate(821.1 421) rotate(-90) scale(0.8300 1)" font-size="17.7" text-anchor="middle" fill="#111" stroke="#111" stroke-width="0.4">0.65</text>
<path d="M814.5 442 L814.5 462.7" class="t c"/>
<path d="M814.5 497.3 L814.5 519" class="t c"/>
<path d="M814.5 442 L816.65 451 L812.35 451 Z" class="a"/>
<path d="M814.5 519 L812.35 510 L816.65 510 Z" class="a"/>
<text transform="translate(821.1 480) rotate(-90) scale(0.8300 1)" font-size="17.7" text-anchor="middle" fill="#111" stroke="#111" stroke-width="0.4">1.20</text>
<path d="M814.5 519 L814.5 570.7" class="t c"/>
<path d="M814.5 605.3 L814.5 655.6" class="t c"/>
<path d="M814.5 519 L816.65 528 L812.35 528 Z" class="a"/>
<path d="M814.5 655.6 L812.35 646.6 L816.65 646.6 Z" class="a"/>
<text transform="translate(821.1 588) rotate(-90) scale(0.8300 1)" font-size="17.7" text-anchor="middle" fill="#111" stroke="#111" stroke-width="0.4">2.10</text>
<path d="M947.5 54.2 L947.5 146.7" class="t c"/>
<path d="M947.5 181.3 L947.5 274.6" class="t c"/>
<path d="M947.5 54.2 L949.65 63.2 L945.35 63.2 Z" class="a"/>
<path d="M947.5 274.6 L945.35 265.6 L949.65 265.6 Z" class="a"/>
<text transform="translate(954.1 164) rotate(-90) scale(0.8300 1)" font-size="17.7" text-anchor="middle" fill="#111" stroke="#111" stroke-width="0.4">3.40</text>
<path d="M947.5 281 L947.5 337.7" class="t c"/>
<path d="M947.5 372.3 L947.5 429.5" class="t c"/>
<path d="M947.5 281 L949.65 290 L945.35 290 Z" class="a"/>
<path d="M947.5 429.5 L945.35 420.5 L949.65 420.5 Z" class="a"/>
<text transform="translate(954.1 355) rotate(-90) scale(0.8300 1)" font-size="17.7" text-anchor="middle" fill="#111" stroke="#111" stroke-width="0.4">2.30</text>
<path d="M947.5 436 L947.5 528.7" class="t c"/>
<path d="M947.5 563.3 L947.5 655.6" class="t c"/>
<path d="M947.5 436 L949.65 445 L945.35 445 Z" class="a"/>
<path d="M947.5 655.6 L945.35 646.6 L949.65 646.6 Z" class="a"/>
<text transform="translate(954.1 546) rotate(-90) scale(0.8300 1)" font-size="17.7" text-anchor="middle" fill="#111" stroke="#111" stroke-width="0.4">3.40</text>
<path d="M1006 54.2 L1006 127.7" class="t c"/>
<path d="M1006 162.3 L1006 235.2" class="t c"/>
<path d="M1006 54.2 L1008.15 63.2 L1003.85 63.2 Z" class="a"/>
<path d="M1006 235.2 L1003.85 226.2 L1008.15 226.2 Z" class="a"/>
<text transform="translate(1012.6 145) rotate(-90) scale(0.8300 1)" font-size="17.7" text-anchor="middle" fill="#111" stroke="#111" stroke-width="0.4">2.80</text>
<path d="M1006 281 L1006 357.7" class="t c"/>
<path d="M1006 392.3 L1006 429.5" class="t c"/>
<path d="M1006 281 L1008.15 290 L1003.85 290 Z" class="a"/>
<path d="M1006 429.5 L1003.85 420.5 L1008.15 420.5 Z" class="a"/>
<text transform="translate(1012.6 375) rotate(-90) scale(0.8300 1)" font-size="17.7" text-anchor="middle" fill="#111" stroke="#111" stroke-width="0.4">2.30</text>
<path d="M1006 476 L1006 547.7" class="t c"/>
<path d="M1006 582.3 L1006 655.6" class="t c"/>
<path d="M1006 476 L1008.15 485 L1003.85 485 Z" class="a"/>
<path d="M1006 655.6 L1003.85 646.6 L1008.15 646.6 Z" class="a"/>
<text transform="translate(1012.6 565) rotate(-90) scale(0.8300 1)" font-size="17.7" text-anchor="middle" fill="#111" stroke="#111" stroke-width="0.4">2.80</text>
<path d="M1071 682 L1071 728.7" class="t c"/>
<path d="M1071 763.3 L1071 811" class="t c"/>
<path d="M1071 682 L1073.15 691 L1068.85 691 Z" class="a"/>
<path d="M1071 811 L1068.85 802 L1073.15 802 Z" class="a"/>
<text transform="translate(1077.6 746) rotate(-90) scale(0.8300 1)" font-size="17.7" text-anchor="middle" fill="#111" stroke="#111" stroke-width="0.4">2.00</text>
<text transform="translate(410.4 82.6) scale(0.8300 1)" font-size="17.7" text-anchor="start" fill="#111" stroke="#111" stroke-width="0.4">STORAGE</text>
<text transform="translate(410.4 101.9) scale(0.8300 1)" font-size="17.7" text-anchor="start" fill="#111" stroke="#111" stroke-width="0.4">S.U: 10,60 m²</text>
<text transform="translate(412.6 262.6) scale(0.8300 1)" font-size="17.7" text-anchor="start" fill="#111" stroke="#111" stroke-width="0.4">BATHROOM 1</text>
<text transform="translate(412.6 281.9) scale(0.8300 1)" font-size="17.7" text-anchor="start" fill="#111" stroke="#111" stroke-width="0.4">S.U: 5,35 m²</text>
<text transform="translate(549.4 349.6) scale(0.8300 1)" font-size="17.7" text-anchor="start" fill="#111" stroke="#111" stroke-width="0.4">PASSAGE 1</text>
<text transform="translate(549.4 368.9) scale(0.8300 1)" font-size="17.7" text-anchor="start" fill="#111" stroke="#111" stroke-width="0.4">S.U: 1,20 m²</text>
<text transform="translate(664.9 262.6) scale(0.8300 1)" font-size="17.7" text-anchor="start" fill="#111" stroke="#111" stroke-width="0.4">LOUNGE + KITCHEN</text>
<text transform="translate(664.9 281.9) scale(0.8300 1)" font-size="17.7" text-anchor="start" fill="#111" stroke="#111" stroke-width="0.4">S.U: 39,85 m²</text>
<text transform="translate(409.4 503.1) scale(0.8300 1)" font-size="17.7" text-anchor="start" fill="#111" stroke="#111" stroke-width="0.4">BEDROOM 1</text>
<text transform="translate(409.4 522.4) scale(0.8300 1)" font-size="17.7" text-anchor="start" fill="#111" stroke="#111" stroke-width="0.4">S.U: 12,05 m²</text>
<text transform="translate(933.9 82.6) scale(0.8300 1)" font-size="17.7" text-anchor="start" fill="#111" stroke="#111" stroke-width="0.4">BEDROOM 3</text>
<text transform="translate(933.9 101.9) scale(0.8300 1)" font-size="17.7" text-anchor="start" fill="#111" stroke="#111" stroke-width="0.4">S.U: 11,05 m²</text>
<text transform="translate(875.4 300.6) scale(0.8300 1)" font-size="17.7" text-anchor="start" fill="#111" stroke="#111" stroke-width="0.4">PASSAGE 2</text>
<text transform="translate(875.4 320.6) scale(0.8300 1)" font-size="17.7" text-anchor="start" fill="#111" stroke="#111" stroke-width="0.4">S.U: 2,45 m²</text>
<text transform="translate(1010.4 300.6) scale(0.8300 1)" font-size="17.7" text-anchor="start" fill="#111" stroke="#111" stroke-width="0.4">BATHROOM 2</text>
<text transform="translate(1010.4 320.6) scale(0.8300 1)" font-size="17.7" text-anchor="start" fill="#111" stroke="#111" stroke-width="0.4">S.U: 4,75 m²</text>
<text transform="translate(933.9 503.1) scale(0.8300 1)" font-size="17.7" text-anchor="start" fill="#111" stroke="#111" stroke-width="0.4">BEDROOM 2</text>
<text transform="translate(933.9 522.4) scale(0.8300 1)" font-size="17.7" text-anchor="start" fill="#111" stroke="#111" stroke-width="0.4">S.U: 11,05 m²</text>
<text transform="translate(838.9 748.6) scale(0.8300 1)" font-size="17.7" text-anchor="start" fill="#111" stroke="#111" stroke-width="0.4">PORCH</text>
<text transform="translate(838.9 767.9) scale(0.8300 1)" font-size="17.7" text-anchor="start" fill="#111" stroke="#111" stroke-width="0.4">S.U: 27,20 m²</text>
<text transform="translate(930.6 994.6) scale(0.8275 1)" font-size="31" text-anchor="start" fill="#64587a" stroke="#64587a" stroke-width="0">GROUND FLOOR</text>
<path d="M1451.5 -20 H1867 V40.4 H1451.5 Z" class="b"/>
<path d="M1466 40.4 V49.2 H1877 V-10 H1867" class="b"/>
<text transform="translate(1456 19) scale(0.8320 1)" font-size="31" text-anchor="start" fill="#574b6c" stroke="#574b6c" stroke-width="0">DISTRIBUTION</text>
<path d="M1451.5 67.5 H1867 V430.5 H1451.5 Z" class="b"/>
<path d="M1466 430.5 V440.4 H1877 V80.7 H1867" class="b"/>
<text transform="translate(1456 109.3) scale(0.8320 1)" font-size="31" text-anchor="start" fill="#574b6c" stroke="#574b6c" stroke-width="0">LOUNGE+KITCHEN</text>
<text transform="translate(1840.5 109.3) scale(0.8320 1)" font-size="31" text-anchor="end" fill="#574b6c" stroke="#574b6c" stroke-width="0">39,85 m²</text>
<text transform="translate(1456 147.44) scale(0.8320 1)" font-size="31" text-anchor="start" fill="#574b6c" stroke="#574b6c" stroke-width="0">PASSAGE 1</text>
<text transform="translate(1840.5 147.44) scale(0.8320 1)" font-size="31" text-anchor="end" fill="#574b6c" stroke="#574b6c" stroke-width="0">1,20 m²</text>
<text transform="translate(1456 185.58) scale(0.8320 1)" font-size="31" text-anchor="start" fill="#574b6c" stroke="#574b6c" stroke-width="0">STORAGE</text>
<text transform="translate(1840.5 185.58) scale(0.8320 1)" font-size="31" text-anchor="end" fill="#574b6c" stroke="#574b6c" stroke-width="0">10,60 m²</text>
<text transform="translate(1456 223.72) scale(0.8320 1)" font-size="31" text-anchor="start" fill="#574b6c" stroke="#574b6c" stroke-width="0">BEDROOM 1</text>
<text transform="translate(1840.5 223.72) scale(0.8320 1)" font-size="31" text-anchor="end" fill="#574b6c" stroke="#574b6c" stroke-width="0">12,05 m²</text>
<text transform="translate(1456 261.86) scale(0.8320 1)" font-size="31" text-anchor="start" fill="#574b6c" stroke="#574b6c" stroke-width="0">BATHROOM 1</text>
<text transform="translate(1840.5 261.86) scale(0.8320 1)" font-size="31" text-anchor="end" fill="#574b6c" stroke="#574b6c" stroke-width="0">5,35 m²</text>
<text transform="translate(1456 300) scale(0.8320 1)" font-size="31" text-anchor="start" fill="#574b6c" stroke="#574b6c" stroke-width="0">PASSAGE 2</text>
<text transform="translate(1840.5 300) scale(0.8320 1)" font-size="31" text-anchor="end" fill="#574b6c" stroke="#574b6c" stroke-width="0">2,45 m²</text>
<text transform="translate(1456 338.14) scale(0.8320 1)" font-size="31" text-anchor="start" fill="#574b6c" stroke="#574b6c" stroke-width="0">BEDROOM 2</text>
<text transform="translate(1840.5 338.14) scale(0.8320 1)" font-size="31" text-anchor="end" fill="#574b6c" stroke="#574b6c" stroke-width="0">11,05 m²</text>
<text transform="translate(1456 376.28) scale(0.8320 1)" font-size="31" text-anchor="start" fill="#574b6c" stroke="#574b6c" stroke-width="0">BEDROOM 3</text>
<text transform="translate(1840.5 376.28) scale(0.8320 1)" font-size="31" text-anchor="end" fill="#574b6c" stroke="#574b6c" stroke-width="0">11,05 m²</text>
<text transform="translate(1456 414.42) scale(0.8320 1)" font-size="31" text-anchor="start" fill="#574b6c" stroke="#574b6c" stroke-width="0">BATHROOM 2</text>
<text transform="translate(1840.5 414.42) scale(0.8320 1)" font-size="31" text-anchor="end" fill="#574b6c" stroke="#574b6c" stroke-width="0">4,75 m²</text>
<path d="M1451.5 470.6 H1867 V526.8 H1451.5 Z" class="b"/>
<path d="M1466 526.8 V536.6 H1877 V482.9 H1867" class="b"/>
<text transform="translate(1456 505.4) scale(0.8320 1)" font-size="31" text-anchor="start" fill="#574b6c" stroke="#574b6c" stroke-width="0">INTERIOR AREA</text>
<text transform="translate(1840.5 505.4) scale(0.8320 1)" font-size="31" text-anchor="end" fill="#574b6c" stroke="#574b6c" stroke-width="0">98,35 m²</text>
<path d="M1451.5 565.8 H1867 V622 H1451.5 Z" class="b"/>
<path d="M1466 622 V631.8 H1877 V578.1 H1867" class="b"/>
<text transform="translate(1456 600.6) scale(0.8320 1)" font-size="31" text-anchor="start" fill="#574b6c" stroke="#574b6c" stroke-width="0">CONST. AREA</text>
<text transform="translate(1840.5 600.6) scale(0.8320 1)" font-size="31" text-anchor="end" fill="#574b6c" stroke="#574b6c" stroke-width="0">123,20 m²</text>
<path d="M1451.5 661 H1867 V717.2 H1451.5 Z" class="b"/>
<path d="M1466 717.2 V727 H1877 V673.3 H1867" class="b"/>
<text transform="translate(1456 695.8) scale(0.8320 1)" font-size="31" text-anchor="start" fill="#574b6c" stroke="#574b6c" stroke-width="0">PORCH</text>
<text transform="translate(1840.5 695.8) scale(0.8320 1)" font-size="31" text-anchor="end" fill="#574b6c" stroke="#574b6c" stroke-width="0">27,20 m²</text>
<path d="M1451.5 756.2 H1867 V812.4 H1451.5 Z" class="b"/>
<path d="M1466 812.4 V822.2 H1877 V768.5 H1867" class="b"/>
<text transform="translate(1456 791) scale(0.8320 1)" font-size="31" text-anchor="start" fill="#574b6c" stroke="#574b6c" stroke-width="0">EXTERIOR AREA</text>
<text transform="translate(1840.5 791) scale(0.8320 1)" font-size="31" text-anchor="end" fill="#574b6c" stroke="#574b6c" stroke-width="0">29,20 m²</text>
<path d="M1451.5 851.4 H1867 V907.6 H1451.5 Z" class="b"/>
<path d="M1466 907.6 V917.4 H1877 V863.7 H1867" class="b"/>
<text transform="translate(1456 886.2) scale(0.8320 1)" font-size="31" text-anchor="start" fill="#574b6c" stroke="#574b6c" stroke-width="0">TOTAL CONST.</text>
<text transform="translate(1840.5 886.2) scale(0.8320 1)" font-size="31" text-anchor="end" fill="#574b6c" stroke="#574b6c" stroke-width="0">152,40 m²</text>
<path d="M1451.5 946.6 H1867 V1002.8 H1451.5 Z" class="b"/>
<path d="M1466 1002.8 V1012.6 H1877 V958.9 H1867" class="b"/>
<text transform="translate(1456 981.4) scale(0.8320 1)" font-size="31" text-anchor="start" fill="#574b6c" stroke="#574b6c" stroke-width="0">POOL (10x3 m.):</text>
<text transform="translate(1840.5 981.4) scale(0.8320 1)" font-size="31" text-anchor="end" fill="#574b6c" stroke="#574b6c" stroke-width="0">30,00 m²</text>
</svg>
</body></html>
